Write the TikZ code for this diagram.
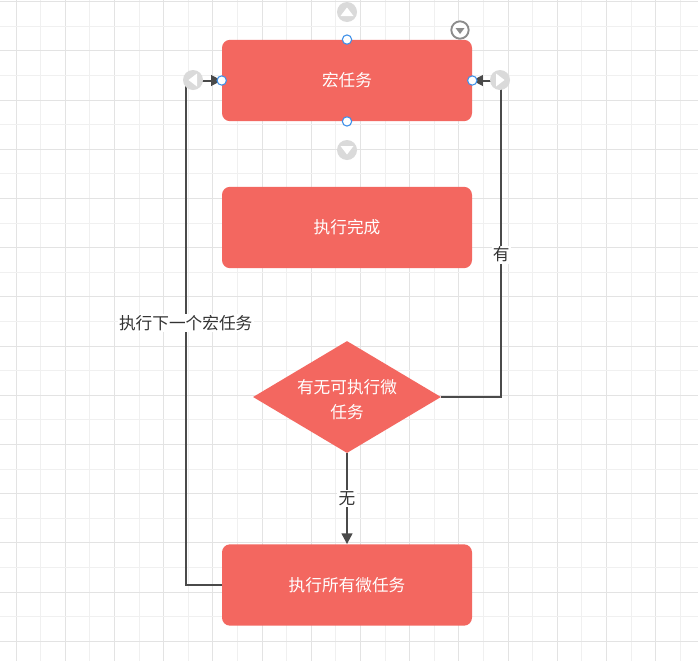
\documentclass[tikz,border=0pt]{standalone}
\usepackage{fontspec}
\setmainfont{Noto Sans CJK SC}
\usetikzlibrary{shapes.geometric,arrows.meta}
\definecolor{boxred}{HTML}{F36760}
\definecolor{gridhi}{HTML}{E3E3E3}
\definecolor{gridlo}{HTML}{F0F0F0}
\definecolor{linegray}{HTML}{4A4A4A}
\definecolor{handlegray}{HTML}{DADADA}
\definecolor{handleblue}{HTML}{3D8FE8}
\begin{document}
\begin{tikzpicture}[x=0.75pt, y=-0.75pt, font=\fontsize{12.5}{19}\selectfont,
	task/.style={rectangle, rounded corners=6pt, fill=boxred, text=white, minimum width=187.5pt, minimum height=61pt},
	choice/.style={diamond, fill=boxred, text=white, inner sep=0pt, aspect=1.68, minimum width=141pt, minimum height=84pt, align=center},
	conn/.style={draw=linegray, line width=1.5pt, -{Triangle[length=8pt, width=8pt]}},
	lbl/.style={fill=white, text=black!80, inner sep=1pt},
	dot/.style={circle, draw=handleblue, fill=white, line width=0.8pt, inner sep=0pt, minimum size=7pt},
	knob/.style={circle, fill=handlegray, inner sep=0pt, minimum size=15pt}]
	\useasboundingbox (0,0) rectangle (698,661);
	\fill[white] (0,0) rectangle (698,661);
	\foreach \k in {0,...,27} {
		\pgfmathsetmacro{\gx}{16+24.6*\k}
		\ifodd\k \def\gc{gridlo}\else\def\gc{gridhi}\fi
		\draw[\gc, line width=0.75pt] (\gx,0) -- (\gx,661);
	}
	\foreach \k in {0,...,26} {
		\pgfmathsetmacro{\gy}{1.7+24.6*\k}
		\ifodd\k \def\gc{gridlo}\else\def\gc{gridhi}\fi
		\draw[\gc, line width=0.75pt] (0,\gy) -- (698,\gy);
	}
	\node[task] (macro) at (347,80.5) {宏任务};
	\node[task] (done) at (347,227.5) {执行完成};
	\node[choice] (check) at (347,397) {\rule{0pt}{14pt}有无可执行微\\任务};
	\node[task] (micro) at (347,585) {执行所有微任务};
	\draw[conn] (check.south) -- node[lbl] {无} (micro.north);
	\draw[conn] (check.east) -- ++(60,0) |- node[lbl, pos=0.225] {有} (macro.east);
	\draw[conn] (micro.west) -- ++(-36,0) |- node[lbl, pos=0.26] {执行下一个宏任务} (macro.west);
	\node[knob] (up) at (347,12) {};
	\fill[white] (340.5,16) -- (353.5,16) -- (347,7.5) -- cycle;
	\node[knob] (down) at (347,150) {};
	\fill[white] (340.5,146) -- (353.5,146) -- (347,154.5) -- cycle;
	\node[knob] (left) at (193,80) {};
	\fill[white] (197,73.5) -- (197,86.5) -- (188.5,80) -- cycle;
	\node[knob] (right) at (500,80) {};
	\fill[white] (496,73.5) -- (496,86.5) -- (504.5,80) -- cycle;
	\node[circle, draw=black!45, fill=white, line width=1.4pt, inner sep=0pt, minimum size=13pt] (menu) at (460,30) {};
	\fill[black!45] (455.5,28) -- (464.5,28) -- (460,34) -- cycle;
	\foreach \a in {north,south,east,west}
		\node[dot] at (macro.\a) {};
\end{tikzpicture}
\end{document}
